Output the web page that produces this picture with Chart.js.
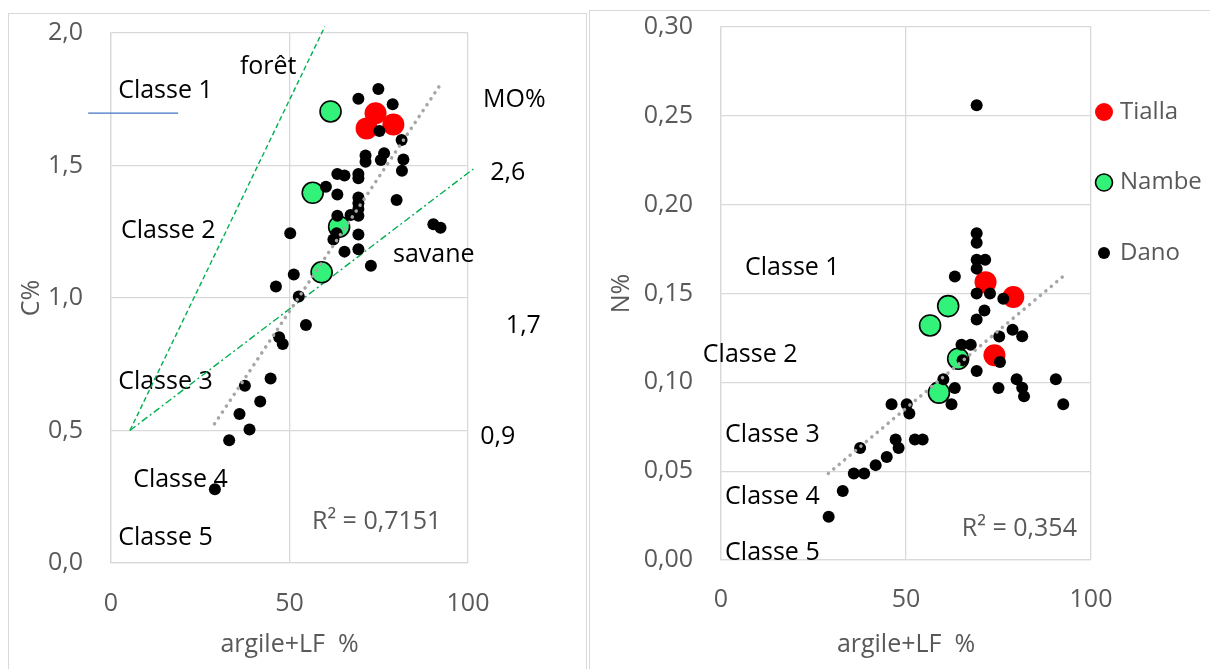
<!DOCTYPE html>
<html lang="fr">
<head>
<meta charset="UTF-8" />
<title>C% et N% en fonction de argile+LF %</title>
<script src="https://cdn.jsdelivr.net/npm/chart.js"></script>
<style>
  html, body { margin: 0; padding: 0; background: #fff; overflow: hidden; }
  body { width: 1210px; height: 669px; position: relative; }
  .frame { position: absolute; border: 1px solid #d9d9d9; }
  canvas { position: absolute; top: 0; }
</style>
</head>
<body>
<div class="frame" style="left:8px; top:13px; width:577px; height:700px"></div>
<div class="frame" style="left:589px; top:10px; width:700px; height:700px"></div>
<canvas id="chartC" width="590" height="669" style="left:0"></canvas>
<canvas id="chartN" width="620" height="669" style="left:590px"></canvas>

<script>
  // ---- left chart : C% vs argile+LF % ----
  const cTiallaX = [74.1, 71.6, 79.1];
  const cTiallaY = [1.697, 1.640, 1.655];
  const cNambeX = [61.5, 56.5, 63.9, 59.0];
  const cNambeY = [1.704, 1.397, 1.269, 1.097];
  const cDanoX = [74.9, 69.3, 78.9, 75.2, 81.4, 71.3, 71.3, 76.5, 75.6, 81.9,
                  81.5, 63.4, 65.4, 69.3, 69.3, 60.2, 63.4, 80.0, 69.3, 69.3,
                  69.3, 69.3, 67.1, 63.4, 90.3, 92.3, 50.2, 63.2, 62.3, 69.3,
                  65.4, 69.3, 72.8, 51.2, 46.2, 52.6, 54.6, 47.1, 48.1, 44.7,
                  37.5, 41.8, 36.0, 38.8, 33.1, 29.1];
  const cDanoY = [1.789, 1.752, 1.731, 1.630, 1.596, 1.538, 1.514, 1.546, 1.521, 1.523,
                  1.480, 1.468, 1.462, 1.468, 1.452, 1.420, 1.391, 1.370, 1.379, 1.358,
                  1.336, 1.310, 1.313, 1.310, 1.278, 1.265, 1.244, 1.244, 1.221, 1.240,
                  1.175, 1.184, 1.122, 1.089, 1.043, 1.006, 0.898, 0.852, 0.826, 0.696,
                  0.669, 0.609, 0.562, 0.504, 0.463, 0.278];
  const cTrendX = [29, 92];
  const cTrendY = [0.525, 1.80];
  const foretX = [5.3, 59.9];
  const foretY = [0.5, 2.024];
  const savaneX = [5.3, 101.5];
  const savaneY = [0.5, 1.487];
  const classe1X = [-6.4, 18.8];
  const classe1Y = [1.698, 1.698];
  const cTicksX = [0, 50, 100];
  const cTicksY = [0, 0.5, 1.0, 1.5, 2.0];

  // ---- right chart : N% vs argile+LF % ----
  const nTiallaX = [71.5, 79.0, 73.9];
  const nTiallaY = [0.1564, 0.148, 0.1152];
  const nNambeX = [61.4, 56.5, 64.1, 58.9];
  const nNambeY = [0.1429, 0.1320, 0.1133, 0.0942];
  const nDanoX = [69.1, 69.1, 69.1, 69.1, 71.4, 69.1, 63.2, 69.1, 72.7, 76.3,
                  71.2, 69.1, 78.8, 81.4, 75.2, 65.0, 67.5, 65.3, 75.4, 69.1,
                  60.1, 63.2, 75.0, 79.9, 81.4, 81.9, 90.5, 92.5, 46.1, 50.2,
                  62.3, 50.9, 47.2, 48.0, 52.4, 54.5, 37.6, 44.8, 41.8, 35.9,
                  38.7, 32.9, 29.1];
  const nDanoY = [0.256, 0.1839, 0.1785, 0.169, 0.169, 0.164, 0.1596, 0.150, 0.150, 0.147,
                  0.1404, 0.1354, 0.1296, 0.126, 0.1258, 0.1212, 0.1212, 0.1125, 0.1114, 0.1064,
                  0.1017, 0.0968, 0.0968, 0.1017, 0.097, 0.0921, 0.1017, 0.0876, 0.0876, 0.0876,
                  0.0876, 0.0824, 0.0678, 0.0631, 0.0678, 0.0678, 0.0631, 0.058, 0.0534, 0.0487,
                  0.0487, 0.0389, 0.0243];
  const nTrendX = [29, 92.5];
  const nTrendY = [0.0487, 0.1597];
  const nTicksX = [0, 50, 100];
  const nTicksY = [0, 0.05, 0.10, 0.15, 0.20, 0.25, 0.30];

  const seriesNames = ['Tialla', 'Nambe', 'Dano'];

  const FONT = "'Open Sans', sans-serif";
  const GREY_TEXT = '#595959';
  const GRID = '#d9d9d9';
  Chart.defaults.font.family = FONT;

  const pts = (xs, ys) => xs.map((x, i) => ({ x: x, y: ys[i] }));

  // free text placed in data units (left aligned, vertically centred)
  const textLabels = {
    id: 'textLabels',
    beforeDatasetsDraw(chart, args, opts) {
      const { ctx, scales } = chart;
      ctx.save();
      ctx.font = opts.size + 'px ' + FONT;
      ctx.textAlign = 'left';
      ctx.textBaseline = 'middle';
      for (const l of opts.items) {
        ctx.fillStyle = l.color || '#000';
        ctx.fillText(l.text, scales.x.getPixelForValue(l.x), scales.y.getPixelForValue(l.y));
      }
      ctx.restore();
    }
  };

  // legend drawn to the right of the plot, like the spreadsheet one
  const sideLegend = {
    id: 'sideLegend',
    afterDraw(chart, args, opts) {
      const { ctx, chartArea } = chart;
      const metas = opts.names.map(n => chart.data.datasets.find(d => d.label === n));
      ctx.save();
      ctx.font = opts.size + 'px ' + FONT;
      ctx.textBaseline = 'middle';
      ctx.textAlign = 'left';
      metas.forEach((ds, i) => {
        const cx = chartArea.right + 13;
        const cy = opts.top + i * opts.gap;
        ctx.beginPath();
        ctx.arc(cx, cy, opts.radius[i], 0, Math.PI * 2);
        ctx.fillStyle = ds.pointBackgroundColor;
        ctx.fill();
        if (ds.pointBorderWidth) {
          ctx.lineWidth = ds.pointBorderWidth;
          ctx.strokeStyle = ds.pointBorderColor;
          ctx.stroke();
        }
        ctx.fillStyle = GREY_TEXT;
        ctx.fillText(ds.label, cx + 16, cy);
      });
      ctx.restore();
    }
  };

  function markerSets(tX, tY, nX, nY, dX, dY, rBig) {
    return [
      { label: seriesNames[2], data: pts(dX, dY), order: 1,
        pointRadius: 6, pointBackgroundColor: '#000', pointBorderColor: '#000', pointBorderWidth: 0 },
      { label: seriesNames[0], data: pts(tX, tY), order: 2,
        pointRadius: rBig, pointBackgroundColor: '#ff0000', pointBorderColor: '#ff0000', pointBorderWidth: 0 },
      { label: seriesNames[1], data: pts(nX, nY), order: 3,
        pointRadius: rBig - 0.5, pointBackgroundColor: '#33f279', pointBorderColor: '#000', pointBorderWidth: 1.6 }
    ];
  }

  function lineSet(xs, ys, color, width, dash, order, cap) {
    return { data: pts(xs, ys), showLine: true, pointRadius: 0, borderColor: color,
             borderWidth: width, borderDash: dash, borderCapStyle: cap || 'butt',
             order: order, clip: false };
  }

  function axes(o) {
    return {
      x: {
        type: 'linear', min: 0, max: 100,
        afterBuildTicks: s => { s.ticks = o.ticksX.map(v => ({ value: v })); },
        afterFit: s => { s.height = o.xHeight; },
        ticks: { padding: o.xPad, color: GREY_TEXT, font: { size: 25 } },
        grid: { color: GRID, lineWidth: 1.3, drawTicks: false },
        border: { color: GRID, width: 1.3 },
        title: { display: true, text: 'argile+LF  %', color: GREY_TEXT, font: { size: 25 },
                 padding: { top: 0, bottom: 9 } }
      },
      y: {
        type: 'linear', min: o.ticksY[0], max: o.ticksY[o.ticksY.length - 1],
        afterBuildTicks: s => { s.ticks = o.ticksY.map(v => ({ value: v })); },
        afterFit: s => { s.width = o.yWidth; s.paddingTop = 0; s.paddingBottom = 0; },
        ticks: { padding: 28, color: GREY_TEXT, font: { size: 25 },
                 callback: v => v.toFixed(o.dec).replace('.', ',') },
        grid: { color: GRID, lineWidth: 1.3, drawTicks: false },
        border: { color: GRID, width: 1.3 },
        title: { display: true, text: o.yTitle, color: GREY_TEXT, font: { size: 25 },
                 padding: { top: 17, bottom: 0 } }
      }
    };
  }

  new Chart(document.getElementById('chartC'), {
    type: 'scatter',
    data: {
      datasets: [
        lineSet(cTrendX, cTrendY, '#a6a6a6', 3.5, [0.1, 7], 0, 'round'),
        ...markerSets(cTiallaX, cTiallaY, cNambeX, cNambeY, cDanoX, cDanoY, 11),
        lineSet(foretX, foretY, '#00b050', 1.4, [5, 3], 4),
        lineSet(savaneX, savaneY, '#00b050', 1.4, [7, 3, 2, 3], 4),
        lineSet(classe1X, classe1Y, '#4472c4', 1.3, [], 4)
      ]
    },
    options: {
      responsive: false,
      animation: false,
      events: [],
      layout: { padding: { left: 0, top: 33, right: 122, bottom: 0 } },
      scales: axes({ ticksX: cTicksX, ticksY: cTicksY, dec: 1, yTitle: 'C%',
                     xHeight: 106, yWidth: 111, xPad: 26 }),
      plugins: {
        legend: { display: false },
        tooltip: { enabled: false },
        textLabels: {
          size: 25,
          items: [
            { text: 'forêt', x: 36.1, y: 1.872 },
            { text: 'Classe 1', x: 2.0, y: 1.781 },
            { text: 'MO%', x: 104.2, y: 1.747 },
            { text: 'Classe 2', x: 2.8, y: 1.253 },
            { text: '2,6', x: 106.2, y: 1.472 },
            { text: 'savane', x: 79.0, y: 1.162 },
            { text: '1,7', x: 110.6, y: 0.894 },
            { text: 'Classe 3', x: 2.0, y: 0.683 },
            { text: '0,9', x: 103.4, y: 0.475 },
            { text: 'Classe 4', x: 6.2, y: 0.313 },
            { text: 'Classe 5', x: 2.0, y: 0.094 },
            { text: 'R² = 0,7151', x: 56.3, y: 0.155, color: GREY_TEXT }
          ]
        }
      }
    },
    plugins: [textLabels]
  });

  new Chart(document.getElementById('chartN'), {
    type: 'scatter',
    data: {
      datasets: [
        lineSet(nTrendX, nTrendY, '#a6a6a6', 3.5, [0.1, 7], 0, 'round'),
        ...markerSets(nTiallaX, nTiallaY, nNambeX, nNambeY, nDanoX, nDanoY, 11)
      ]
    },
    options: {
      responsive: false,
      animation: false,
      events: [],
      layout: { padding: { left: 0, top: 27, right: 119, bottom: 0 } },
      scales: axes({ ticksX: nTicksX, ticksY: nTicksY, dec: 2, yTitle: 'N%',
                     xHeight: 109, yWidth: 131, xPad: 25 }),
      plugins: {
        legend: { display: false },
        tooltip: { enabled: false },
        textLabels: {
          size: 25,
          items: [
            { text: 'Classe 1', x: 6.5, y: 0.1646 },
            { text: 'Classe 2', x: -4.9, y: 0.1152 },
            { text: 'Classe 3', x: 1.1, y: 0.0702 },
            { text: 'Classe 4', x: 1.1, y: 0.0354 },
            { text: 'Classe 5', x: 1.1, y: 0.0039 },
            { text: 'R² = 0,354', x: 65.1, y: 0.0174, color: GREY_TEXT }
          ]
        },
        sideLegend: { names: seriesNames, size: 24, top: 112, gap: 70.5, radius: [9, 8.5, 6] }
      }
    },
    plugins: [textLabels, sideLegend]
  });
</script>
</body>
</html>
